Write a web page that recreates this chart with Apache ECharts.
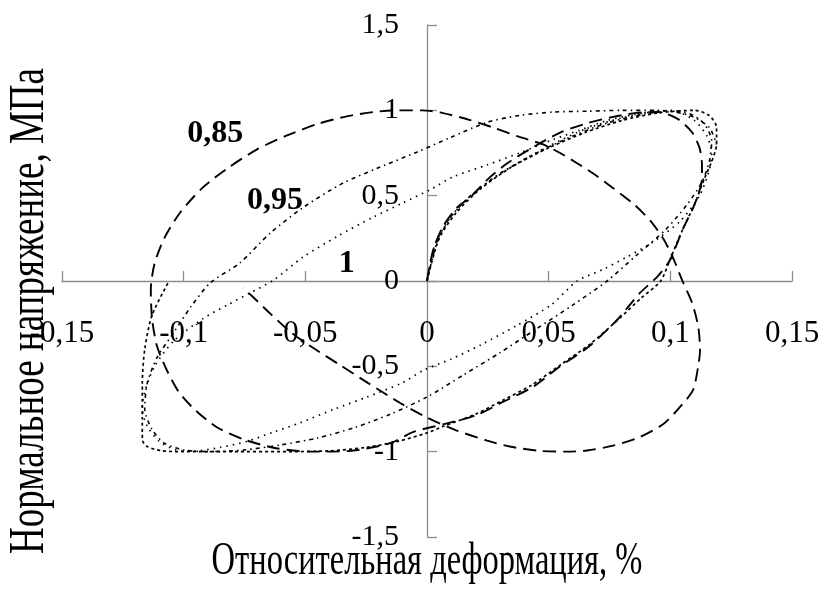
<!DOCTYPE html>
<html>
<head>
<meta charset="utf-8">
<script src="https://cdn.jsdelivr.net/npm/echarts@6/dist/echarts.min.js"></script>
<style>
  html, body { margin: 0; padding: 0; background: #fff; }
  #chart { width: 821px; height: 590px; }
</style>
</head>
<body>
<div id="chart"></div>
<script>
// Hysteresis loops: normal stress (MPa) vs relative strain (%)
const xTicks = [-0.15, -0.1, -0.05, 0, 0.05, 0.1, 0.15];
const yTicks = [-1.5, -1, -0.5, 0, 0.5, 1, 1.5];

// frequency ratio 0,85 (long dash)
const loop085 = [
  [0,0],[0.0025,0.18],[0.0066,0.32],[0.0123,0.43],[0.0177,0.49],[0.026,0.61],[0.033,0.69],
  [0.042,0.77],[0.0547,0.87],[0.066,0.925],[0.076,0.96],[0.086,0.985],[0.095,0.99],
  [0.103,0.95],[0.109,0.87],[0.112,0.78],[0.113,0.68],[0.113,0.6],[0.11,0.45],[0.105,0.3],
  [0.0999,0.123],[0.0945,0.023],[0.0875,-0.07],[0.078,-0.23],[0.066,-0.39],[0.0547,-0.5],
  [0.0436,-0.62],[0.031,-0.71],[0.0205,-0.785],[0.0066,-0.84],[-0.0058,-0.885],[-0.015,-0.95],
  [-0.032,-0.996],[-0.048,-1.0],[-0.062,-0.98],[-0.075,-0.93],[-0.086,-0.86],[-0.095,-0.76],
  [-0.102,-0.65],[-0.107,-0.52],[-0.111,-0.38],[-0.113,-0.22],[-0.1135,-0.05],[-0.112,0.1],
  [-0.108,0.25],[-0.1015,0.4],[-0.092,0.55],[-0.081,0.67],[-0.07,0.77],[-0.058,0.85],
  [-0.045,0.92],[-0.033,0.965],[-0.022,0.99],[-0.012,1.0],[-0.002,1.0],[0.0066,0.984],
  [0.0177,0.943],[0.027,0.9],[0.038,0.844],[0.0477,0.8],[0.0547,0.75],[0.0617,0.69],
  [0.068,0.633],[0.0764,0.545],[0.085,0.45],[0.092,0.35],[0.097,0.25],[0.101,0.14],
  [0.105,0.0],[0.109,-0.13],[0.1115,-0.27],[0.1122,-0.404],[0.1114,-0.504],[0.1093,-0.64],
  [0.104,-0.738],[0.097,-0.84],[0.0875,-0.914],[0.0764,-0.965],[0.0658,-0.993],[0.0575,-1.0],
  [0.046,-0.995],[0.034,-0.97],[0.0247,-0.935],[0.012,-0.875],[0,-0.8],[-0.011,-0.715],
  [-0.024,-0.6],[-0.036,-0.49],[-0.047,-0.39],[-0.056,-0.3],[-0.0645,-0.19],[-0.0715,-0.094],
  [-0.0756,-0.04]
];

// frequency ratio 0,95 (dash-dot)
const loop095 = [
  [0,0],[0.004,0.22],[0.01,0.38],[0.018,0.5],[0.03,0.63],[0.045,0.75],[0.06,0.85],[0.075,0.93],
  [0.09,0.98],[0.1,1.0],[0.108,0.98],[0.114,0.92],[0.117,0.82],[0.116,0.7],[0.113,0.58],
  [0.107,0.45],[0.098,0.3],[0.086,0.15],[0.074,0.0],[0.06,-0.14],[0.045,-0.28],[0.03,-0.42],
  [0.015,-0.55],[0,-0.68],[-0.015,-0.78],[-0.03,-0.86],[-0.045,-0.92],[-0.06,-0.96],
  [-0.075,-0.99],[-0.09,-1.0],[-0.1,-0.99],[-0.108,-0.95],[-0.113,-0.87],[-0.116,-0.75],
  [-0.115,-0.6],[-0.111,-0.45],[-0.104,-0.3],[-0.097,-0.15],[-0.089,-0.01],[-0.077,0.105],
  [-0.0645,0.28],[-0.051,0.43],[-0.0345,0.574],[-0.0205,0.66],[-0.004,0.756],[0.0095,0.84],
  [0.0247,0.93],[0.038,0.97],[0.052,0.99],[0.066,0.995],[0.08,1.0],[0.095,1.0],[0.108,0.97],
  [0.116,0.9],[0.119,0.8]
];

// frequency ratio 1 (round dot)
const loop100 = [
  [0,0],[0.003,0.2],[0.008,0.34],[0.015,0.46],[0.025,0.58],[0.036,0.68],[0.05,0.79],
  [0.065,0.89],[0.08,0.955],[0.095,0.995],[0.103,0.99],[0.11,0.94],[0.115,0.85],[0.117,0.75],
  [0.116,0.65],[0.112,0.5],[0.104,0.35],[0.092,0.22],[0.082,0.14],[0.0727,0.07],[0.0617,0],
  [0.051,-0.14],[0.037,-0.26],[0.022,-0.375],[0.01,-0.457],[-0.001,-0.52],[-0.0107,-0.6],
  [-0.0247,-0.68],[-0.038,-0.75],[-0.052,-0.83],[-0.063,-0.885],[-0.074,-0.94],[-0.085,-0.975],
  [-0.095,-0.995],[-0.103,-0.99],[-0.11,-0.94],[-0.115,-0.85],[-0.117,-0.75],[-0.116,-0.65],
  [-0.112,-0.5],[-0.104,-0.35],[-0.092,-0.22],[-0.082,-0.14],[-0.0727,-0.07],[-0.063,0.006],
  [-0.051,0.14],[-0.037,0.26],[-0.022,0.375],[-0.01,0.457],[0.001,0.533],[0.0107,0.61],
  [0.0247,0.68],[0.038,0.75],[0.052,0.83],[0.063,0.885],[0.074,0.94],[0.085,0.975],[0.095,0.995]
];

// outer loop (square dot)
const loopOuter = [
  [0,0],[0.005,0.25],[0.012,0.4],[0.022,0.54],[0.035,0.67],[0.05,0.78],[0.065,0.87],
  [0.08,0.94],[0.095,0.985],[0.11,1.0],[0.116,0.97],[0.119,0.9],[0.119,0.8],[0.117,0.7],
  [0.114,0.6],[0.11,0.45],[0.105,0.3],[0.1,0.13],[0.096,0.0],[0.088,-0.1],[0.079,-0.22],
  [0.067,-0.37],[0.055,-0.49],[0.043,-0.61],[0.031,-0.7],[0.02,-0.78],[0.007,-0.85],
  [0,-0.89],[-0.012,-0.94],[-0.025,-0.975],[-0.04,-0.995],[-0.06,-1.0],[-0.08,-1.0],
  [-0.1,-1.0],[-0.109,-0.995],[-0.115,-0.97],[-0.117,-0.93],[-0.117,-0.8],[-0.117,-0.6],
  [-0.116,-0.4],[-0.113,-0.2],[-0.106,0]
];

const seriesLabels = [
  { text: '0,85', at: [-0.087, 0.86] },
  { text: '0,95', at: [-0.0625, 0.47] },
  { text: '1', at: [-0.033, 0.1] }
];

const fmt = v => String(v).replace('.', ',');

const chart = echarts.init(document.getElementById('chart'));
const axisGray = '#8c8c8c';
const serif = '"Liberation Serif", "Times New Roman", serif';

// plot box in pixels
const G = { left: 62, right: 29, top: 25, bottom: 53 };
const plotW = 821 - G.left - G.right;
const plotH = 590 - G.top - G.bottom;
// axes cross at zero: shift them inward from the grid edges
const xAxisShift = -plotH / 2;
const yAxisShift = -plotW / 2;

function lineSeries(name, data, dash, width) {
  return {
    name, type: 'line', data, symbol: 'none', smooth: 0.25, silent: true,
    lineStyle: { color: '#000', width, type: dash }
  };
}

chart.setOption({
  animation: false,
  backgroundColor: '#fff',
  grid: { left: G.left, right: G.right, top: G.top, bottom: G.bottom,
          containLabel: false, outerBoundsMode: 'none' },
  xAxis: {
    type: 'value', min: xTicks[0], max: xTicks[xTicks.length - 1], interval: 0.05,
    position: 'bottom', offset: xAxisShift,
    splitLine: { show: false },
    axisLine: { onZero: false, lineStyle: { color: axisGray, width: 1.3 } },
    axisTick: { inside: true, length: 10, lineStyle: { color: axisGray, width: 1.3 } },
    axisLabel: {
      margin: 37, color: '#000', fontFamily: serif, fontSize: 31,
      showMinLabel: true, showMaxLabel: true, hideOverlap: false,
      formatter: v => fmt(Math.round(v * 100) / 100)
    }
  },
  yAxis: {
    type: 'value', min: yTicks[0], max: yTicks[yTicks.length - 1], interval: 0.5,
    position: 'left', offset: yAxisShift,
    splitLine: { show: false },
    axisLine: { onZero: false, lineStyle: { color: axisGray, width: 1.3 } },
    axisTick: { inside: true, length: 10, lineStyle: { color: axisGray, width: 1.3 } },
    axisLabel: {
      margin: 28, color: '#000', fontFamily: serif, fontSize: 30,
      showMinLabel: true, showMaxLabel: true, hideOverlap: false,
      formatter: v => fmt(v)
    }
  },
  series: [
    lineSeries('0,85', loop085, [13, 7], 1.9),
    lineSeries('0,95', loop095, [4, 4, 1.5, 4], 1.6),
    lineSeries('1', loop100, [1.5, 5], 1.7),
    lineSeries('outer', loopOuter, [3, 3], 1.7)
  ]
});

// axis titles (tall, narrow lettering) and bold series captions at their data positions
const graphics = [
  {
    id: 'xTitle', type: 'text', x: 427, y: 562, scaleY: 1.4,
    style: { text: 'Относительная деформация, %', font: '32.5px ' + serif, fill: '#000',
             align: 'center', verticalAlign: 'middle' }
  },
  {
    id: 'yTitle', type: 'text', x: 30, y: 311, rotation: Math.PI / 2, scaleY: 1.35,
    style: { text: 'Нормальное напряжение, МПа', font: '37px ' + serif, fill: '#000',
             align: 'center', verticalAlign: 'middle' }
  }
];
seriesLabels.forEach((l, i) => {
  const p = chart.convertToPixel({ gridIndex: 0 }, l.at);
  graphics.push({
    id: 'cap' + i, type: 'text', x: p[0], y: p[1],
    style: { text: l.text, font: 'bold 32px ' + serif, fill: '#000', align: 'center', verticalAlign: 'middle' }
  });
});
chart.setOption({ graphic: graphics });
</script>
</body>
</html>
